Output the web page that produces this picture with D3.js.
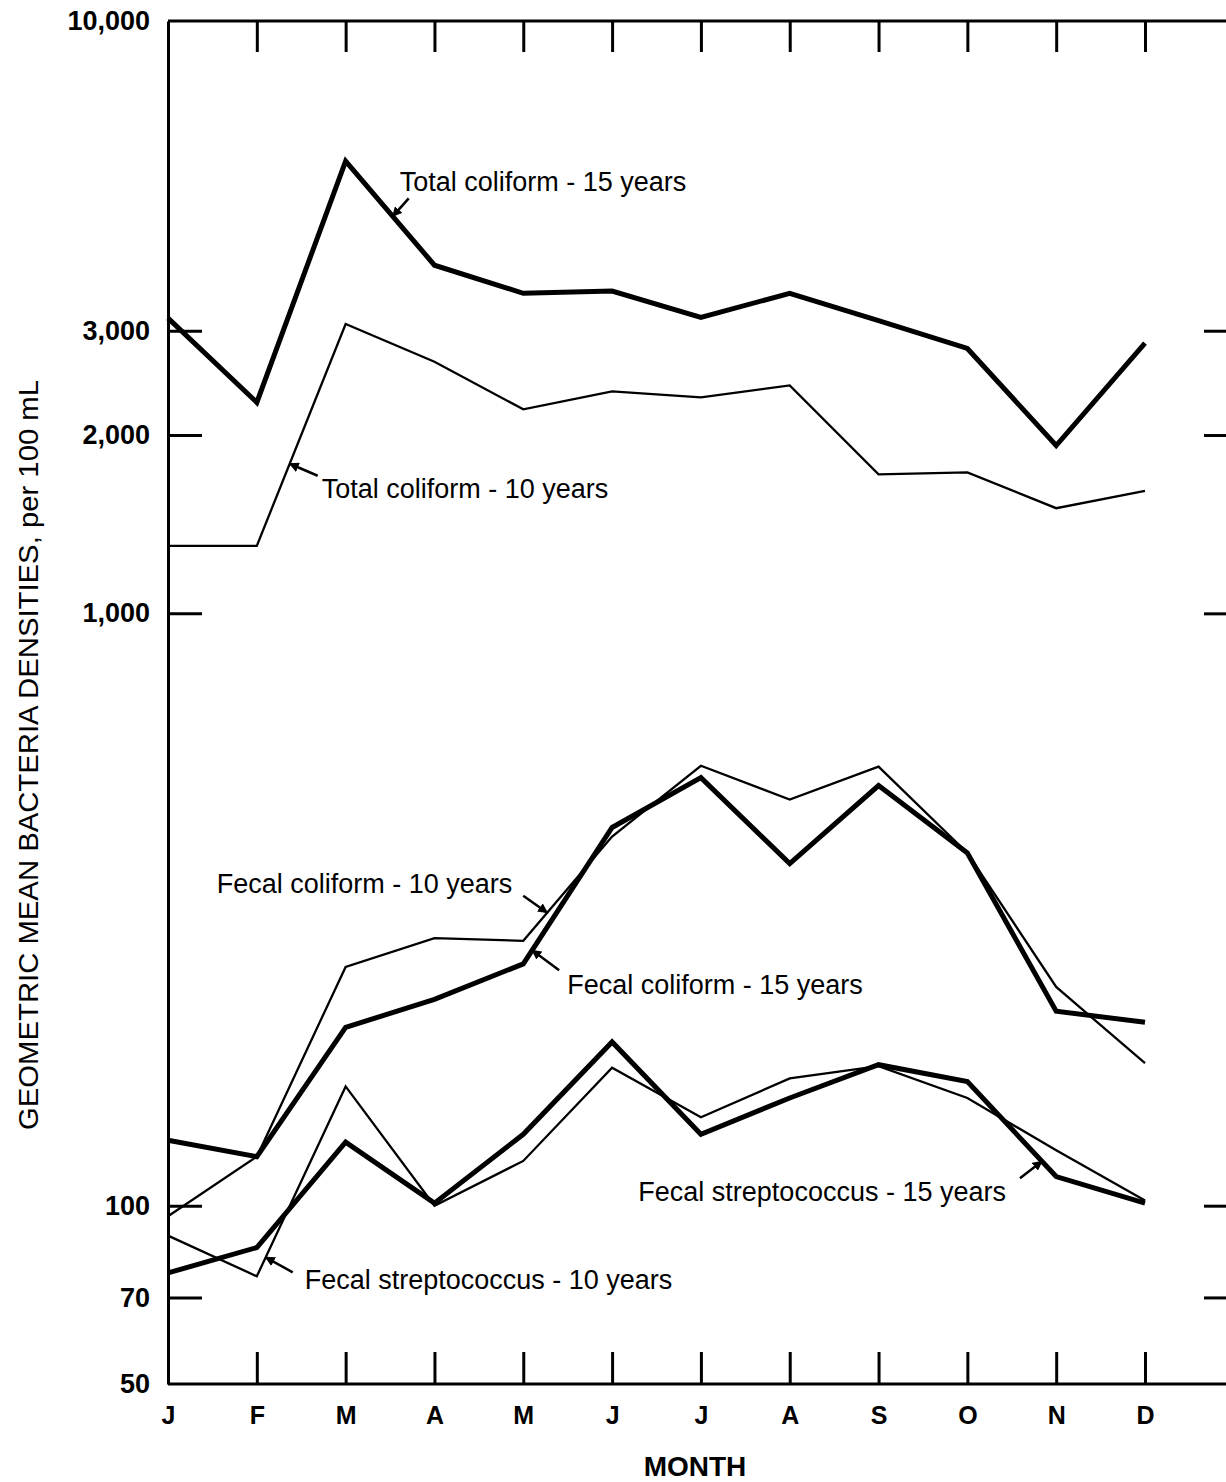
<!DOCTYPE html>
<html>
<head>
<meta charset="utf-8">
<script src="https://cdn.jsdelivr.net/npm/d3@7"></script>
<style>
  body { margin: 0; background: #fff; }
  svg { display: block; font-family: "Liberation Sans", Arial, Helvetica, sans-serif; }
</style>
</head>
<body>
<svg id="chart"></svg>
<script>
const months = ['J','F','M','A','M','J','J','A','S','O','N','D'];
const yTicks = [50, 70, 100, 1000, 2000, 3000, 10000];

const totalColiform15 = [3150, 2270, 5800, 3870, 3470, 3500, 3160, 3470, 3120, 2800, 1920, 2860];
const totalColiform10 = [1300, 1300, 3080, 2660, 2210, 2370, 2315, 2425, 1716, 1730, 1505, 1610];
const fecalColiform15 = [129, 121, 200, 223, 256, 435, 528, 378, 512, 394, 213, 204];
const fecalColiform10 = [96, 121, 253, 283, 280, 420, 553, 485, 551, 394, 234, 174];
const fecalStrep15 = [77, 85, 128, 101, 132, 189, 132, 152, 173, 162, 112, 101];
const fecalStrep10 = [89, 76, 159, 100, 119, 171, 141, 164, 172, 152, 124, 102];

const seriesNames = [
    'Total coliform - 15 years', 'Total coliform - 10 years',
    'Fecal coliform - 15 years', 'Fecal coliform - 10 years',
    'Fecal streptococcus - 15 years', 'Fecal streptococcus - 10 years'
];

class LineChart {
constructor(config) {
    this.config = {
        parent: config.parent,
        width: config.width || 1226,
        height: config.height || 1482,
        left: 168, right: 1236, top: 21, bottom: 1384,
        firstX: 168, lastX: 1145,
    };
    this.init();
}

init() {
    let self = this;
    const c = self.config;
    self.svg = d3.select(c.parent)
        .attr('width', c.width)
        .attr('height', c.height);
    self.svg.append('rect').attr('width', c.width).attr('height', c.height).attr('fill', '#fff');

    self.xscale = d3.scaleLinear().domain([0, 11]).range([c.firstX, c.lastX]);
    self.yscale = d3.scaleLog().domain([50, 10000]).range([c.bottom, c.top]);

    self.series = [
        { name: seriesNames[0], values: totalColiform15, thick: true },
        { name: seriesNames[1], values: totalColiform10, thick: false },
        { name: seriesNames[2], values: fecalColiform15, thick: true },
        { name: seriesNames[3], values: fecalColiform10, thick: false },
        { name: seriesNames[4], values: fecalStrep15, thick: true },
        { name: seriesNames[5], values: fecalStrep10, thick: false },
    ];

    // where each label's arrow touches its line (month index) and how the text sits
    self.notes = [
        { s: 0, at: 2.53, tail: [16, -18], tx: 7, ty: -35, anchor: 'start' },
        { s: 1, at: 1.37, tail: [28, 12], tx: 32, ty: 25, anchor: 'start' },
        { s: 3, at: 4.27, tail: [-24, -17], tx: -35, ty: -29, anchor: 'end' },
        { s: 2, at: 4.1, tail: [27, 20], tx: 35, ty: 34, anchor: 'start' },
        { s: 4, at: 9.84, tail: [-22, 17], tx: -36, ty: 30, anchor: 'end' },
        { s: 5, at: 1.1, tail: [27, 15], tx: 39, ty: 22, anchor: 'start' },
    ];
}

render() {
    let self = this;
    const c = self.config;

    self.svg.append('defs').append('marker')
        .attr('id', 'arrow')
        .attr('viewBox', '0 0 10 10')
        .attr('refX', 9).attr('refY', 5)
        .attr('markerWidth', 10).attr('markerHeight', 10)
        .attr('markerUnits', 'userSpaceOnUse')
        .attr('orient', 'auto')
        .append('path').attr('d', 'M0,0 L10,5 L0,10 Z').attr('fill', '#000');

    // frame + ticks
    const tickFont = g => g.selectAll('text')
        .attr('fill', '#000')
        .style('font-size', '27px')
        .style('font-weight', 'bold');
    const axisStyle = g => {
        g.select('.domain').attr('stroke', '#000').attr('stroke-width', 3);
        g.selectAll('.tick line').attr('stroke', '#000').attr('stroke-width', 3);
    };

    const yaxis = d3.axisLeft(self.yscale)
        .tickValues(yTicks)
        .tickFormat(d3.format(','))
        .tickSizeInner(-34).tickSizeOuter(0).tickPadding(18);
    self.svg.append('g')
        .attr('transform', `translate(${c.left},0)`)
        .call(yaxis).call(axisStyle).call(tickFont)
        .call(g => g.selectAll('.tick').filter(d => d == 50 || d == 10000).select('line').remove());

    const yaxisR = d3.axisRight(self.yscale)
        .tickValues(yTicks.filter(d => d != 50 && d != 10000))
        .tickFormat('')
        .tickSizeInner(-32).tickSizeOuter(0);
    self.svg.append('g')
        .attr('transform', `translate(${c.right},0)`)
        .call(yaxisR).call(axisStyle);

    const xaxis = d3.axisBottom(self.xscale)
        .tickValues(d3.range(12))
        .tickFormat(i => months[i])
        .tickSizeInner(-32).tickSizeOuter(0).tickPadding(22);
    self.svg.append('g')
        .attr('transform', `translate(0,${c.bottom})`)
        .call(xaxis).call(axisStyle).call(tickFont)
        .call(g => g.select('.domain').attr('d', `M${c.left},0H${c.right}`))
        .call(g => g.selectAll('text').style('font-size', '25px'))
        .call(g => g.selectAll('.tick').filter(d => d == 0).select('line').remove());

    const xaxisT = d3.axisTop(self.xscale)
        .tickValues(d3.range(1, 12))
        .tickFormat('')
        .tickSizeInner(-31).tickSizeOuter(0);
    self.svg.append('g')
        .attr('transform', `translate(0,${c.top})`)
        .call(xaxisT).call(axisStyle)
        .call(g => g.select('.domain').attr('d', `M${c.left},0H${c.right}`));

    // lines
    const line = d3.line()
        .x((d, i) => self.xscale(i))
        .y(d => self.yscale(d));
    self.svg.append('g').selectAll('path')
        .data(self.series)
        .join('path')
        .attr('d', d => line(d.values))
        .attr('fill', 'none')
        .attr('stroke', '#000')
        .attr('stroke-width', d => d.thick ? 5 : 2.3)
        .attr('stroke-linejoin', 'miter');

    // labels with arrows
    const pointAt = (vals, t) => {
        const i = Math.floor(t), f = t - i;
        const v = Math.exp(Math.log(vals[i]) * (1 - f) + Math.log(vals[i + 1]) * f);
        return [self.xscale(t), self.yscale(v)];
    };
    const notes = self.svg.append('g').selectAll('g')
        .data(self.notes)
        .join('g')
        .attr('transform', d => {
            const p = pointAt(self.series[d.s].values, d.at);
            return `translate(${p[0]},${p[1]})`;
        });
    notes.append('line')
        .attr('x1', d => d.tail[0]).attr('y1', d => d.tail[1])
        .attr('x2', 0).attr('y2', 0)
        .attr('stroke', '#000').attr('stroke-width', 2.5)
        .attr('marker-end', 'url(#arrow)');
    notes.append('text')
        .attr('x', d => d.tx).attr('y', d => d.ty)
        .attr('dy', '0.35em')
        .attr('text-anchor', d => d.anchor)
        .style('font-size', '27px')
        .text(d => self.series[d.s].name);

    // axis titles
    self.svg.append('text')
        .attr('x', 695).attr('y', 1466)
        .attr('dy', '0.35em')
        .attr('text-anchor', 'middle')
        .style('font-size', '28px').style('font-weight', 'bold')
        .text('MONTH');
    self.svg.append('text')
        .attr('transform', 'translate(29,755) rotate(-90)')
        .attr('dy', '0.35em')
        .attr('text-anchor', 'middle')
        .attr('textLength', 750).attr('lengthAdjust', 'spacingAndGlyphs')
        .style('font-size', '27px')
        .text('GEOMETRIC MEAN BACTERIA DENSITIES, per 100 mL');
}
}

const chart = new LineChart({ parent: '#chart', width: 1226, height: 1482 });
chart.render();
</script>
</body>
</html>
